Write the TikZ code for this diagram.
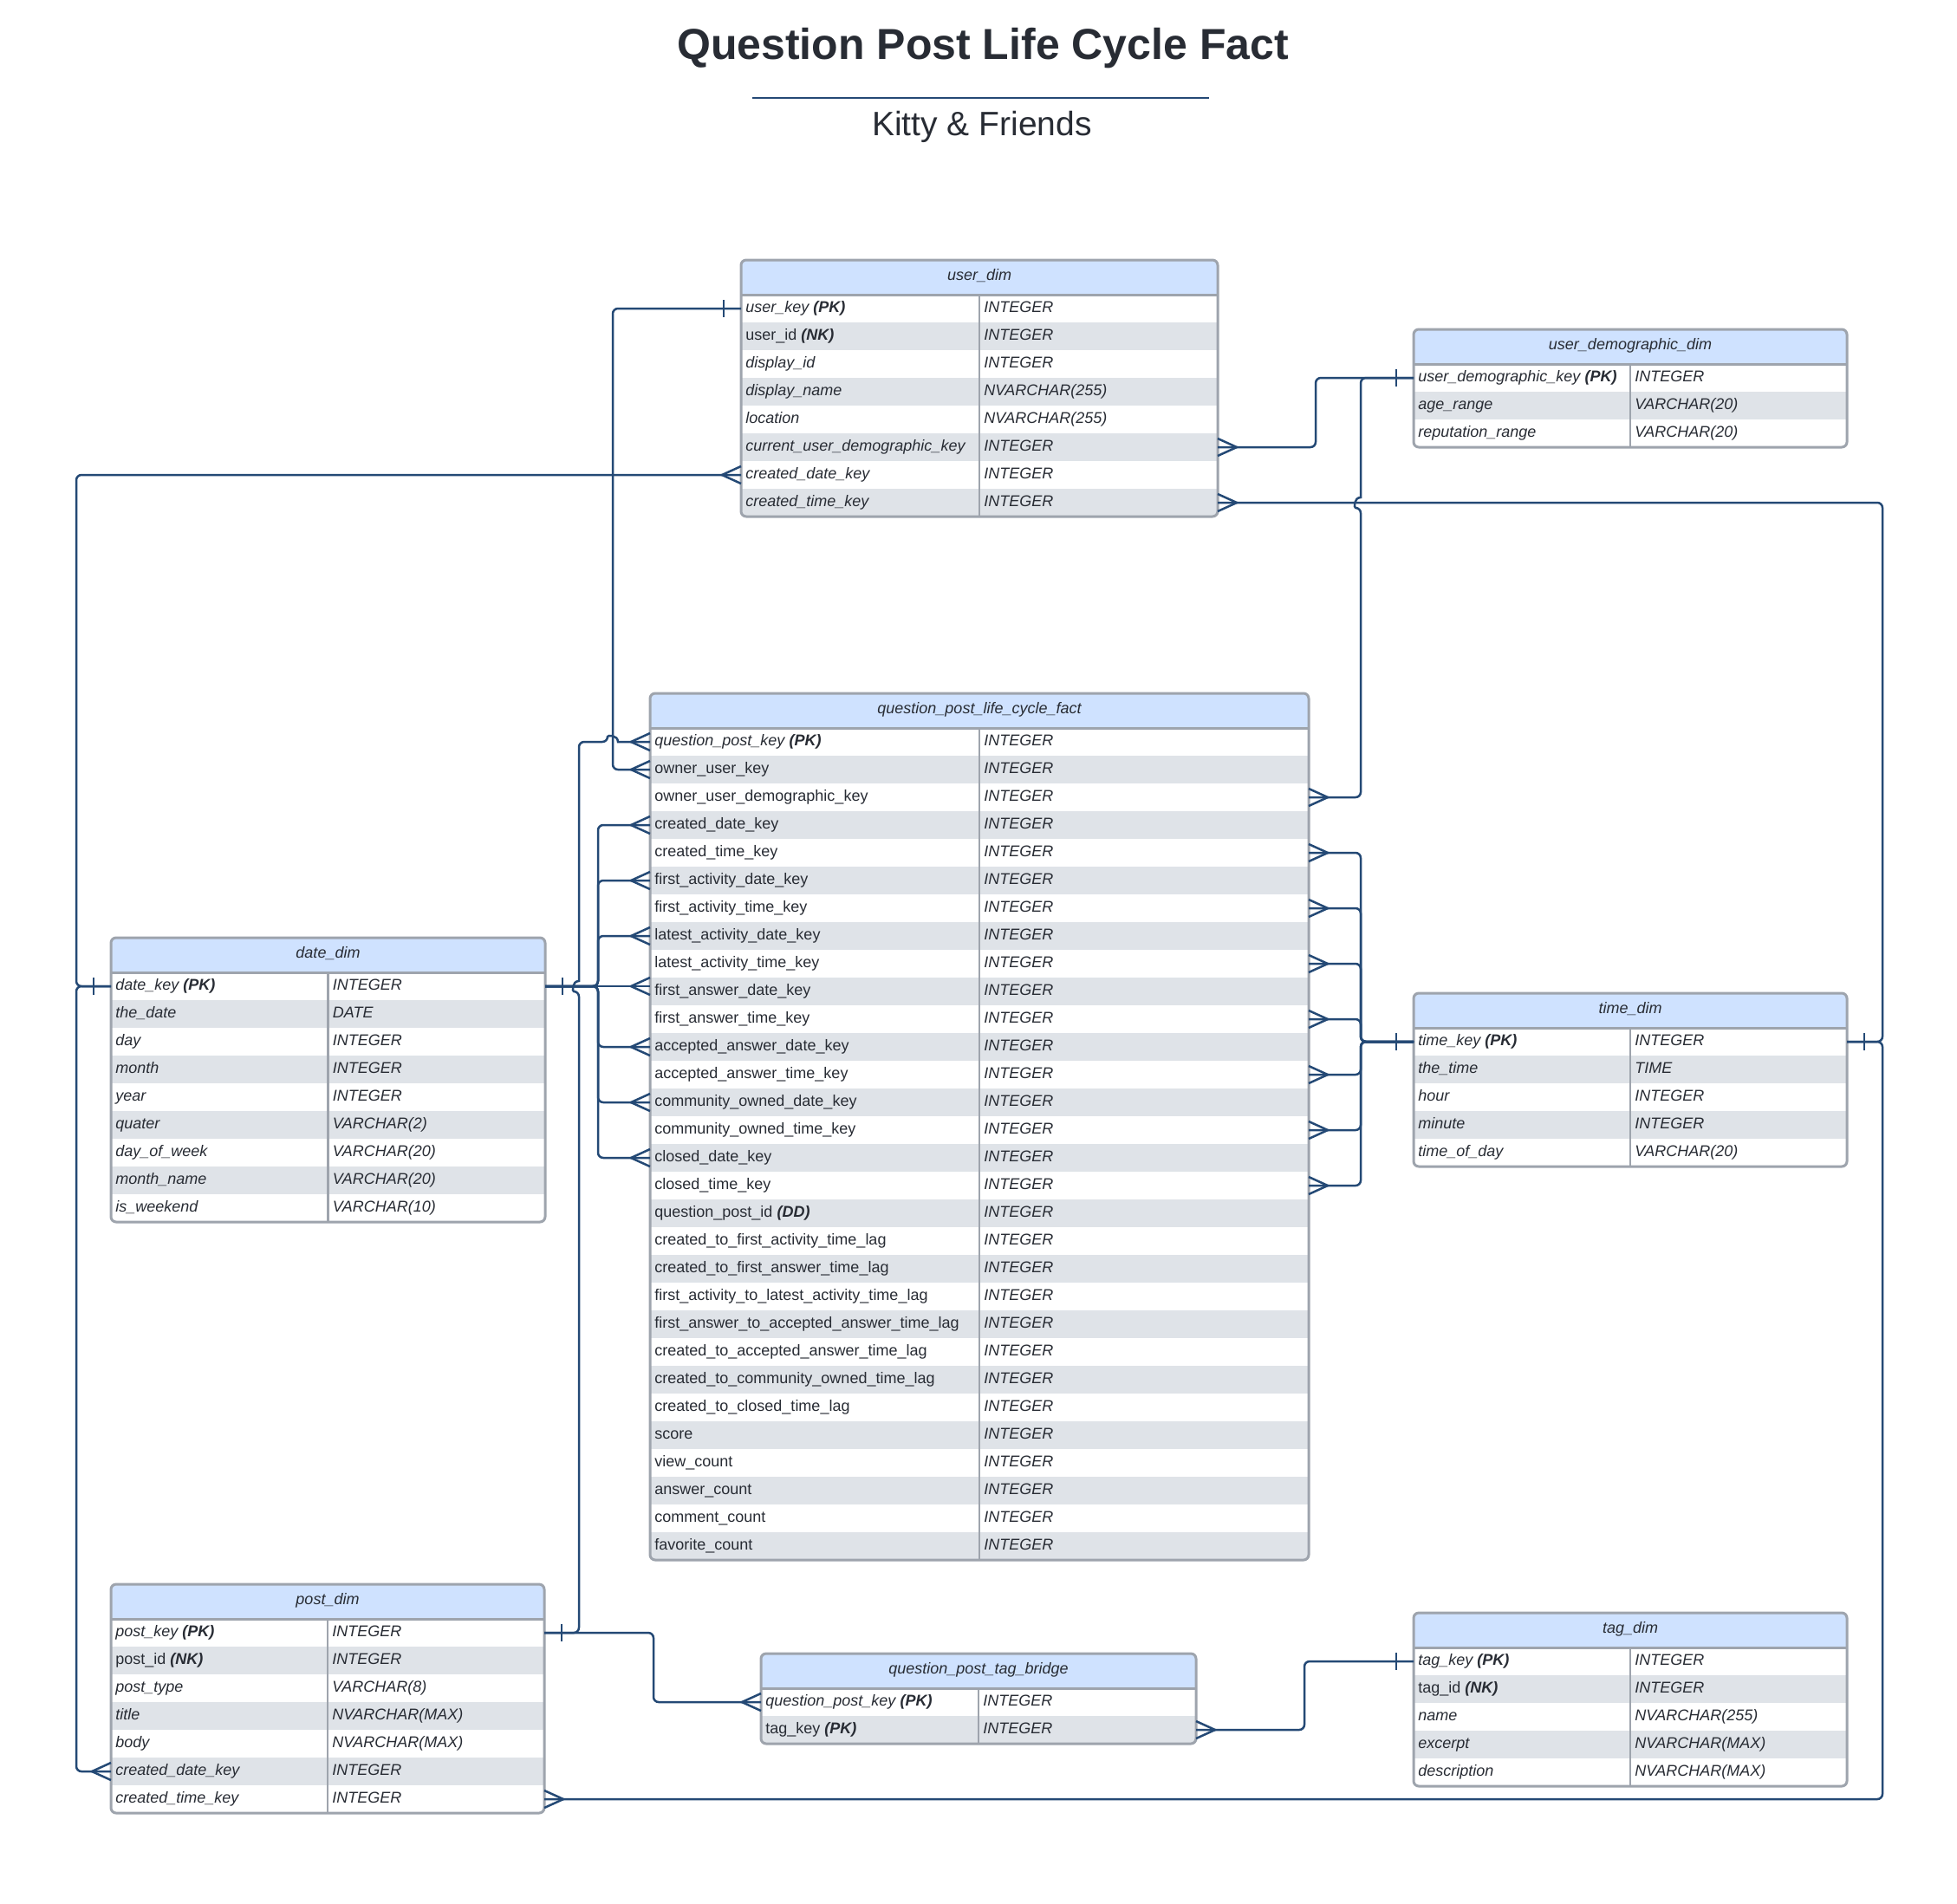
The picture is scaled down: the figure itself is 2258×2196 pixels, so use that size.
\documentclass[tikz,border=0pt]{standalone}
\usepackage{fontspec}
\setmainfont{Liberation Sans}
\usepackage{tikz}

\definecolor{relblue}{RGB}{36,73,117}
\definecolor{headblue}{RGB}{207,226,255}
\definecolor{stripegray}{RGB}{223,227,232}
\definecolor{framegray}{RGB}{158,164,173}
\definecolor{inkgray}{RGB}{40,44,52}

\newcommand{\uprow}[1]{{\upshape #1}}

% one table: prefix, left, top, width, number of rows, title, name/type list
\newcommand{\ertable}[7]{%
    \pgfmathsetmacro{\tabh}{40+32*#5}
    \begin{scope}
        \clip[rounded corners=3pt] (#2,#3) rectangle ++(#4,\tabh);
        \fill[headblue] (#2,#3) rectangle ++(#4,40);
        \foreach \fname/\ftype [count=\i] in {#7} {
            \pgfmathsetmacro{\ry}{#3+24+32*\i}
            \ifodd\i\relax \def\rowfill{white}\else \def\rowfill{stripegray}\fi
            \node[tablerow, fill=\rowfill, minimum width=#4*0.5pt] (#1-\i) at (#2+#4/2,\ry) {};
            \node[fieldtext] at (#2+5,\ry+4) {\fname};
            \node[typetext] at (#2+#4/2+5,\ry+4) {\ftype};
        }
    \end{scope}
    \node[headtext] at (#2+#4/2,#3+23) {#6};
    \draw[framegray, line width=1.5pt] (#2,#3+40) -- ++(#4,0);
    \draw[framegray, line width=1.2pt] (#2+#4/2,#3+40) -- (#2+#4/2,#3+\tabh);
    \draw[framegray, line width=1.5pt, rounded corners=3pt] (#2,#3) rectangle ++(#4,\tabh);
}

% cardinality marks
\newcommand{\manyL}[1]{\draw[relline, sharp corners] ([yshift=5pt]#1) -- ([xshift=-11pt]#1) -- ([yshift=-5pt]#1);}
\newcommand{\manyR}[1]{\draw[relline, sharp corners] ([yshift=5pt]#1) -- ([xshift=11pt]#1) -- ([yshift=-5pt]#1);}
\newcommand{\oneL}[1]{\draw[relline] ([xshift=-10pt,yshift=5pt]#1) -- ([xshift=-10pt,yshift=-5pt]#1);}
\newcommand{\oneR}[1]{\draw[relline] ([xshift=10pt,yshift=5pt]#1) -- ([xshift=10pt,yshift=-5pt]#1);}

\begin{document}
\begin{tikzpicture}[x=0.5pt, y=-0.5pt]
    \tikzstyle{relline}=[draw=relblue, line width=1.25pt, rounded corners=3pt]
    \tikzstyle{tablerow}=[inner sep=0pt, outer sep=0pt, minimum height=16pt, draw=none]
    \tikzstyle{fieldtext}=[anchor=base west, inner sep=0pt, text=inkgray, font=\fontsize{9}{11}\selectfont\itshape]
    \tikzstyle{typetext}=[anchor=base west, inner sep=0pt, text=inkgray, font=\fontsize{9}{11}\selectfont\itshape]
    \tikzstyle{headtext}=[anchor=base, inner sep=0pt, text=inkgray, font=\fontsize{9}{11}\selectfont\itshape]

    \fill[white] (0,0) rectangle (2258,2196);
    \useasboundingbox (0,0) rectangle (2258,2196);

    % Title block
    \node[anchor=base, text=inkgray, font=\bfseries\fontsize{25}{30}\selectfont] (title) at (1134,68) {Question Post Life Cycle Fact};
    \draw[relblue, line width=1pt] (868,113) -- (1395,113);
    \node[anchor=base, text=inkgray, font=\fontsize{19.5}{24}\selectfont] (subtitle) at (1133,156) {Kitty \& Friends};

    % Draw the tables
    \ertable{U}{855}{300}{550}{8}{user\_dim}{%
        user\_key \textbf{(PK)}/INTEGER,
        \uprow{user\_id} \textbf{(NK)}/INTEGER,
        display\_id/INTEGER,
        display\_name/NVARCHAR(255),
        location/NVARCHAR(255),
        current\_user\_demographic\_key/INTEGER,
        created\_date\_key/INTEGER,
        created\_time\_key/INTEGER}

    \ertable{UD}{1631}{380}{500}{3}{user\_demographic\_dim}{%
        user\_demographic\_key \textbf{(PK)}/INTEGER,
        age\_range/VARCHAR(20),
        reputation\_range/VARCHAR(20)}

    \begin{scope}[fieldtext/.append style={font=\fontsize{9}{11}\selectfont\upshape}]
    \ertable{F}{750}{800}{760}{30}{question\_post\_life\_cycle\_fact}{%
        {\itshape question\_post\_key \textbf{(PK)}}/INTEGER,
        owner\_user\_key/INTEGER,
        owner\_user\_demographic\_key/INTEGER,
        created\_date\_key/INTEGER,
        created\_time\_key/INTEGER,
        first\_activity\_date\_key/INTEGER,
        first\_activity\_time\_key/INTEGER,
        latest\_activity\_date\_key/INTEGER,
        latest\_activity\_time\_key/INTEGER,
        first\_answer\_date\_key/INTEGER,
        first\_answer\_time\_key/INTEGER,
        accepted\_answer\_date\_key/INTEGER,
        accepted\_answer\_time\_key/INTEGER,
        community\_owned\_date\_key/INTEGER,
        community\_owned\_time\_key/INTEGER,
        closed\_date\_key/INTEGER,
        closed\_time\_key/INTEGER,
        question\_post\_id \textbf{\itshape (DD)}/INTEGER,
        created\_to\_first\_activity\_time\_lag/INTEGER,
        created\_to\_first\_answer\_time\_lag/INTEGER,
        first\_activity\_to\_latest\_activity\_time\_lag/INTEGER,
        first\_answer\_to\_accepted\_answer\_time\_lag/INTEGER,
        created\_to\_accepted\_answer\_time\_lag/INTEGER,
        created\_to\_community\_owned\_time\_lag/INTEGER,
        created\_to\_closed\_time\_lag/INTEGER,
        score/INTEGER,
        view\_count/INTEGER,
        answer\_count/INTEGER,
        comment\_count/INTEGER,
        favorite\_count/INTEGER}
    \end{scope}

    \ertable{D}{128}{1082}{501}{9}{date\_dim}{%
        date\_key \textbf{(PK)}/INTEGER,
        the\_date/DATE,
        day/INTEGER,
        month/INTEGER,
        year/INTEGER,
        quater/VARCHAR(2),
        day\_of\_week/VARCHAR(20),
        month\_name/VARCHAR(20),
        is\_weekend/VARCHAR(10)}

    \ertable{T}{1631}{1146}{500}{5}{time\_dim}{%
        time\_key \textbf{(PK)}/INTEGER,
        the\_time/TIME,
        hour/INTEGER,
        minute/INTEGER,
        time\_of\_day/VARCHAR(20)}

    \ertable{P}{128}{1828}{500}{7}{post\_dim}{%
        post\_key \textbf{(PK)}/INTEGER,
        \uprow{post\_id} \textbf{(NK)}/INTEGER,
        post\_type/VARCHAR(8),
        title/NVARCHAR(MAX),
        body/NVARCHAR(MAX),
        created\_date\_key/INTEGER,
        created\_time\_key/INTEGER}

    \ertable{B}{878}{1908}{502}{2}{question\_post\_tag\_bridge}{%
        question\_post\_key \textbf{(PK)}/INTEGER,
        \uprow{tag\_key} \textbf{(PK)}/INTEGER}

    \ertable{G}{1631}{1861}{500}{5}{tag\_dim}{%
        tag\_key \textbf{(PK)}/INTEGER,
        \uprow{tag\_id} \textbf{(NK)}/INTEGER,
        name/NVARCHAR(255),
        excerpt/NVARCHAR(MAX),
        description/NVARCHAR(MAX)}

    % Connect the user dimension
    \draw[relline] (U-1.west) -- (707,356) |- (F-2.west);
    \draw[relline] (U-6.east) -- (1518,516) |- (UD-1.west);
    \draw[relline] (F-3.east) -- (1570,920) -- (1570,586) [sharp corners]
        .. controls (1562,586) and (1562,574) .. (1570,574) -- (1570,573)
        [rounded corners=3pt] -- (1570,436) -- (UD-1.west);

    % Connect the post dimension
    \draw[relline] (P-1.east) -- (668,1884) -- (668,1144) [sharp corners]
        .. controls (660,1144) and (660,1132) .. (668,1132) -- (668,1131)
        [rounded corners=3pt] -- (668,856) -- (701,856) [sharp corners]
        .. controls (701,848) and (713,848) .. (713,856) -- (F-1.west);
    \draw[relline] (P-1.east) -- (754,1884) |- (B-1.west);
    \draw[relline] (B-2.east) -- (1505,1996) |- (G-1.west);

    % Created date and time of users and posts
    \draw[relline] (U-7.west) -- (88,548) |- (D-1.west);
    \draw[relline] (P-6.west) -- (88,2044) |- (D-1.west);
    \draw[relline] (U-8.east) -- (2172,580) |- (T-1.east);
    \draw[relline] (P-7.east) -- (2172,2076) |- (T-1.east);

    % Date and time keys of the fact table
    \coordinate (F-10-in) at (D-1.east -| F-10.west);
    \draw[relline] (D-1.east) -- (F-10-in);
    \foreach \r in {4,6,8,12,14,16}
        \draw[relline] (D-1.east) -- (690,1138) |- (F-\r.west);
    \foreach \r in {5,7,...,17}
        \draw[relline] (T-1.west) -- (1570,1202) |- (F-\r.east);

    % Cardinality marks
    \oneL{U-1.west} \manyL{F-2.west}
    \manyR{U-6.east} \oneL{UD-1.west} \manyR{F-3.east}
    \oneR{P-1.east} \manyL{F-1.west} \manyL{B-1.west}
    \manyR{B-2.east} \oneL{G-1.west}
    \manyL{U-7.west} \manyL{P-6.west} \oneL{D-1.west}
    \manyR{U-8.east} \manyR{P-7.east} \oneR{T-1.east}
    \oneR{D-1.east} \manyL{F-10-in}
    \foreach \r in {4,6,8,12,14,16} {\manyL{F-\r.west}}
    \oneL{T-1.west}
    \foreach \r in {5,7,...,17} {\manyR{F-\r.east}}
\end{tikzpicture}
\end{document}
